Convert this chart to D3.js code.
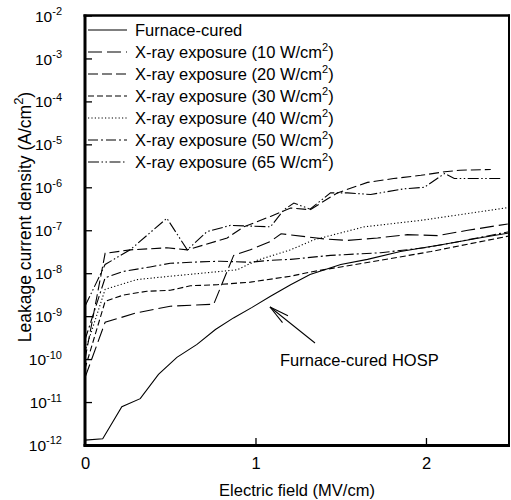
<!DOCTYPE html>
<html><head><meta charset="utf-8">
<script src="https://cdn.jsdelivr.net/npm/d3@7"></script>
<style>
html,body{margin:0;padding:0;background:#fff;}
text{font-family:"Liberation Sans",Arial,Helvetica,sans-serif;fill:#000;}
</style></head>
<body><svg id="c" width="511" height="500"></svg>
<script>
// ---- data ----
const seriesNames = ["Furnace-cured","X-ray exposure (10 W/cm","X-ray exposure (20 W/cm","X-ray exposure (30 W/cm","X-ray exposure (40 W/cm","X-ray exposure (50 W/cm","X-ray exposure (65 W/cm"];
const fieldFurnace = [0,0.104,0.216,0.324,0.431,0.539,0.657,0.765,0.871,0.98,1.088,1.206,1.32,1.5,1.657,1.85,2.09,2.32,2.49];
const jFurnace = [1.3e-12,1.4e-12,7.8e-12,1.2e-11,4.4e-11,1.1e-10,2.2e-10,4.9e-10,9.1e-10,1.6e-9,2.9e-9,5.4e-9,9.3e-9,1.6e-8,2.1e-8,3.2e-8,4.6e-8,6.7e-8,8.7e-8];
const field10 = [0,0.118,0.304,0.5,0.755,0.872,0.97,1.088,1.15,1.4,1.54,1.716,1.89,2.07,2.245,2.48];
const j10 = [3.7e-11,7.2e-10,1.2e-9,1.7e-9,1.9e-9,2.6e-8,3.5e-8,5.5e-8,8.3e-8,6.3e-8,5.8e-8,6.6e-8,7.9e-8,7.5e-8,1.0e-7,1.4e-7];
const field20 = [0,0.118,0.265,0.48,0.6,0.834,0.931,1.088,1.206,1.32,1.48,1.657,1.81,1.97,2.11,2.2,2.38];
const j20 = [1e-10,2.9e-8,3.5e-8,3.9e-8,3.5e-8,6.6e-8,1.2e-7,2.1e-7,3.3e-7,3.0e-7,7.4e-7,1.3e-6,1.6e-6,1.9e-6,2.3e-6,2.5e-6,2.6e-6];
const field30 = [0,0.118,0.225,0.363,0.5,0.618,0.775,0.97,1.206,1.34,1.5,1.735,2.03,2.49];
const j30 = [6e-11,2.2e-9,3.1e-9,3.8e-9,4.0e-9,5.1e-9,5.4e-9,6.2e-9,8.5e-9,1.1e-8,1.4e-8,2.0e-8,3.2e-8,7.4e-8];
const field40 = [0,0.118,0.304,0.5,0.794,0.892,1.01,1.206,1.343,1.637,1.97,2.49];
const j40 = [1.5e-10,4.2e-9,7.1e-9,8.5e-9,1.1e-8,1.2e-8,2.0e-8,3.5e-8,6.0e-8,1.2e-7,1.7e-7,3.4e-7];
const field50 = [0,0.118,0.225,0.382,0.5,0.618,0.794,0.97,1.088,1.206,1.44,1.735,1.99,2.166,2.49];
const j50 = [2.8e-10,7.8e-9,1.1e-8,1.4e-8,1.7e-8,1.8e-8,1.9e-8,1.8e-8,2.0e-8,2.1e-8,2.6e-8,3.0e-8,3.9e-8,5.2e-8,9.3e-8];
const field65 = [0,0.118,0.265,0.48,0.6,0.716,0.853,1.088,1.167,1.225,1.32,1.44,1.54,1.676,1.87,1.99,2.11,2.166,2.44];
const j65 = [1.7e-9,1.6e-8,3.5e-8,1.9e-7,3.5e-8,9.3e-8,1.3e-7,1.2e-7,3.0e-7,4.3e-7,3.1e-7,7.4e-7,7.4e-7,6.8e-7,9.2e-7,1.0e-6,2.1e-6,1.6e-6,1.6e-6];
const xTicks = [0,1,2];
const yExponents = [-2,-3,-4,-5,-6,-7,-8,-9,-10,-11,-12];

// ---- styles ----
const dashes = [null,"14,5","10,4","6,3","1.2,2.2","10,3,2,3","11,2.5,1.5,2.5,1.5,2.5"];
const fields = [fieldFurnace,field10,field20,field30,field40,field50,field65];
const values = [jFurnace,j10,j20,j30,j40,j50,j65];

const svg = d3.select("#c");
const x = d3.scaleLinear().domain([0,2.487]).range([85,509]);
const y = d3.scaleLog().domain([1e-12,1e-2]).range([445,15.5]);

// lines
const line = d3.line().x(d=>x(d[0])).y(d=>y(d[1]));
svg.append("clipPath").attr("id","pc").append("rect")
  .attr("x",85).attr("y",15.5).attr("width",424).attr("height",429.5);
const gl = svg.append("g").attr("clip-path","url(#pc)");
values.forEach((vals,i)=>{
  const pts = vals.map((v,k)=>[fields[i][k],v]);
  gl.append("path").attr("d",line(pts)).attr("fill","none")
    .attr("stroke","#000").attr("stroke-width",1.1)
    .attr("stroke-dasharray",dashes[i]);
});

// y axis
const ya = d3.axisLeft(y).tickValues(yExponents.map(e=>Math.pow(10,e)))
  .tickSizeInner(-7).tickSizeOuter(0).tickPadding(23).tickFormat("");
const gy = svg.append("g").attr("transform","translate(85,0)").call(ya);
gy.select(".domain").remove();
gy.selectAll(".tick line").attr("stroke","#000").attr("stroke-width",1.3);
gy.selectAll(".tick text").each(function(d){
  const t = d3.select(this);
  t.attr("font-size",15.5).attr("dy","0.36em").attr("font-family",null);
  t.append("tspan").text("10");
  t.append("tspan").attr("font-size",11).attr("dy","-0.6em").text(Math.round(Math.log10(d)));
});

// x axis
const xa = d3.axisBottom(x).tickValues(xTicks).tickSizeInner(-7).tickSizeOuter(0).tickPadding(12).tickFormat(d3.format("d"));
const gx = svg.append("g").attr("transform","translate(0,445)").call(xa);
gx.select(".domain").remove();
gx.selectAll(".tick line").attr("stroke","#000").attr("stroke-width",1.3);
gx.selectAll(".tick text").attr("font-size",16.5).attr("font-family",null);

// frame
svg.append("line").attr("x1",85).attr("x2",85).attr("y1",14.5).attr("y2",446.5).attr("stroke","#000").attr("stroke-width",3);
svg.append("line").attr("x1",83.5).attr("x2",510).attr("y1",445.5).attr("y2",445.5).attr("stroke","#000").attr("stroke-width",3);
svg.append("line").attr("x1",83.5).attr("x2",510).attr("y1",15.5).attr("y2",15.5).attr("stroke","#000").attr("stroke-width",2.5);
svg.append("line").attr("x1",509).attr("x2",509).attr("y1",14.5).attr("y2",446.5).attr("stroke","#000").attr("stroke-width",2);

// legend
const lg = svg.append("g");
seriesNames.forEach((nm,i)=>{
  const yy = 30 + i*22;
  lg.append("line").attr("x1",88).attr("x2",127).attr("y1",yy).attr("y2",yy)
    .attr("stroke","#000").attr("stroke-width",1.1).attr("stroke-dasharray",dashes[i]);
  const t = lg.append("text").attr("x",135).attr("y",yy).attr("dy","0.36em").attr("font-size",16.5);
  t.append("tspan").text(nm);
  if(i>0){
    t.append("tspan").attr("font-size",11).attr("dy","-0.65em").text("2");
    t.append("tspan").attr("dy","0.43em").text(")");
  }
});

// axis titles
const yt = svg.append("text").attr("transform","translate(31,217) rotate(-90)")
  .attr("text-anchor","middle").attr("font-size",17.5);
yt.append("tspan").text("Leakage current density (A/cm");
yt.append("tspan").attr("font-size",13).attr("dy","-0.6em").text("2");
yt.append("tspan").attr("dy","0.45em").text(")");
svg.append("text").attr("x",297).attr("y",496).attr("text-anchor","middle").attr("font-size",16.5).text("Electric field (MV/cm)");

// annotation
svg.append("text").attr("x",280).attr("y",366).attr("font-size",16.5).text("Furnace-cured HOSP");
const tip = [270,307], tail = [315,343];
svg.append("line").attr("x1",tail[0]).attr("y1",tail[1]).attr("x2",tip[0]).attr("y2",tip[1]).attr("stroke","#000").attr("stroke-width",1.1);
const ang = Math.atan2(tail[1]-tip[1], tail[0]-tip[0]);
[-0.22,0.22].forEach(a=>{
  svg.append("line").attr("x1",tip[0]).attr("y1",tip[1])
    .attr("x2",tip[0]+20*Math.cos(ang+a)).attr("y2",tip[1]+20*Math.sin(ang+a))
    .attr("stroke","#000").attr("stroke-width",1.1);
});
</script></body></html>
